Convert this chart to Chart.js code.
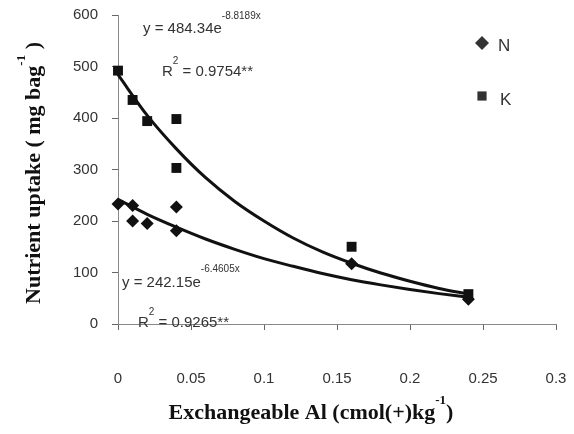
<!DOCTYPE html>
<html>
<head>
<meta charset="utf-8">
<script src="https://cdn.jsdelivr.net/npm/chart.js@4/dist/chart.umd.min.js"></script>
<style>
  body { margin: 0; background: #fff; }
</style>
</head>
<body>
<canvas id="myChart1" width="574" height="434"></canvas>
<script>
// puntos medidos
const alN = [0, 0.01, 0.01, 0.02, 0.04, 0.04, 0.16, 0.24]
const uptakeN = [233, 230, 200, 195, 227, 181, 117, 48]
const alK = [0, 0.01, 0.02, 0.04, 0.04, 0.16, 0.24]
const uptakeK = [492, 435, 394, 398, 303, 150, 58]

// curvas de ajuste
const curveX = [0, 0.02, 0.04, 0.06, 0.08, 0.1, 0.12, 0.14, 0.16, 0.18, 0.2, 0.22, 0.24]
const curveK = [484, 405, 340, 284, 238, 200, 167, 140, 118, 99, 83, 69, 58]
const curveN = [242, 213, 188, 165, 145, 127, 112, 98, 86, 76, 67, 59, 52]

const xTicks = [0, 0.05, 0.1, 0.15, 0.2, 0.25, 0.3]
const yTicks = [0, 100, 200, 300, 400, 500, 600]

const eqK = ['y = 484.34e', '-8.8189x']
const r2K = ' = 0.9754**'
const eqN = ['y = 242.15e', '-6.4605x']
const r2N = ' = 0.9265**'

function pairs(xs, ys) {
    return xs.map((x, i) => ({ x: x, y: ys[i] }))
}

const sans = '"Liberation Sans", Arial, sans-serif'
const serif = '"Liberation Serif", "Times New Roman", serif'

// texto con superindice: partes [normal, sup, normal]
function supText(ctx, parts, x, y, font, supFont, supRise) {
    ctx.font = font
    ctx.fillText(parts[0], x, y)
    x += ctx.measureText(parts[0]).width
    ctx.font = supFont
    ctx.fillText(parts[1], x, y - supRise)
    x += ctx.measureText(parts[1]).width
    if (parts[2]) {
        ctx.font = font
        ctx.fillText(parts[2], x, y)
    }
}

function supWidth(ctx, parts, font, supFont) {
    ctx.font = font
    let w = ctx.measureText(parts[0]).width + (parts[2] ? ctx.measureText(parts[2]).width : 0)
    ctx.font = supFont
    return w + ctx.measureText(parts[1]).width
}

const extras = {
    id: 'extras',
    afterDraw(chart) {
        const ctx = chart.ctx
        ctx.save()
        ctx.fillStyle = '#333'
        ctx.textBaseline = 'middle'
        ctx.textAlign = 'left'

        // ecuaciones
        supText(ctx, eqK, 143, 29, '15px ' + sans, '10px ' + sans, 13)
        supText(ctx, ['R', '2', r2K], 162, 72, '15px ' + sans, '10px ' + sans, 11)
        supText(ctx, eqN, 122, 283, '15px ' + sans, '10px ' + sans, 14)
        supText(ctx, ['R', '2', r2N], 138, 323, '15px ' + sans, '10px ' + sans, 11)

        // leyenda
        const ds = chart.data.datasets
        Chart.helpers.drawPoint(ctx, { pointStyle: ds[0].pointStyle, radius: 7, rotation: 0 }, 482, 43)
        Chart.helpers.drawPoint(ctx, { pointStyle: ds[1].pointStyle, radius: 6.5, rotation: 0 }, 482, 96)
        ctx.fillStyle = '#333'
        ctx.font = '17px ' + sans
        ctx.fillText(ds[0].label, 498, 46)
        ctx.fillText(ds[1].label, 500, 100)

        // titulos de ejes
        ctx.fillStyle = '#111'
        const tf = 'bold 22px ' + serif
        const sf = 'bold 13px ' + serif
        const xt = ['Exchangeable Al (cmol(+)kg', '-1', ')']
        let w = supWidth(ctx, xt, tf, sf)
        supText(ctx, xt, 311 - w / 2, 413, tf, sf, 12)

        const yt = ['Nutrient uptake ( mg bag', '-1', ' )']
        ctx.translate(34, 173)
        ctx.rotate(-Math.PI / 2)
        w = supWidth(ctx, yt, tf, sf)
        supText(ctx, yt, -w / 2, 0, tf, sf, 12)
        ctx.restore()
    }
}

var ctx = document.getElementById('myChart1')
var myChart = new Chart(ctx, {
    type: 'scatter',
    data: {
        datasets: [
        {
            label: 'N',
            data: pairs(alN, uptakeN),
            pointStyle: 'rectRot',
            pointRadius: 6.5,
            backgroundColor: '#111',
            borderColor: '#111',
            borderWidth: 0,
            clip: false
        },
        {
            label: 'K',
            data: pairs(alK, uptakeK),
            pointStyle: 'rect',
            pointRadius: 7,
            backgroundColor: '#111',
            borderColor: '#111',
            borderWidth: 0,
            clip: false
        },
        {
            label: 'K fit',
            type: 'line',
            data: pairs(curveX, curveK),
            borderColor: '#111',
            borderWidth: 3,
            pointRadius: 0,
            cubicInterpolationMode: 'monotone',
            clip: false
        },
        {
            label: 'N fit',
            type: 'line',
            data: pairs(curveX, curveN),
            borderColor: '#111',
            borderWidth: 3,
            pointRadius: 0,
            cubicInterpolationMode: 'monotone',
            clip: false
        }
        ]
    },
    options: {
        responsive: false,
        animation: false,
        layout: { padding: { top: 15, right: 18, left: 0, bottom: 0 } },
        plugins: {
            legend: { display: false },
            tooltip: { enabled: false }
        },
        scales: {
            x: {
                type: 'linear',
                min: xTicks[0],
                max: xTicks[xTicks.length - 1],
                afterFit(scale) {
                    scale.height = 110
                    scale.paddingLeft = 0
                    scale.paddingRight = 0
                },
                afterBuildTicks(scale) { scale.ticks = xTicks.map(v => ({ value: v })) },
                ticks: {
                    color: '#333',
                    font: { family: sans, size: 15 },
                    padding: 40,
                    maxRotation: 0,
                    callback: v => String(+v.toFixed(2))
                },
                grid: { drawOnChartArea: false, drawTicks: true, tickLength: 6, color: '#666' },
                border: { color: '#888', dash: [4, 2] }
            },
            y: {
                min: yTicks[0],
                max: yTicks[yTicks.length - 1],
                afterFit(scale) {
                    scale.width = 118
                    scale.paddingTop = 0
                    scale.paddingBottom = 0
                },
                afterBuildTicks(scale) { scale.ticks = yTicks.map(v => ({ value: v })) },
                ticks: {
                    color: '#333',
                    font: { family: sans, size: 15 },
                    padding: 14
                },
                grid: { drawOnChartArea: false, drawTicks: true, tickLength: 6, color: '#666' },
                border: { color: '#888', dash: [4, 2] }
            }
        }
    },
    plugins: [extras]
})
</script>
</body>
</html>
